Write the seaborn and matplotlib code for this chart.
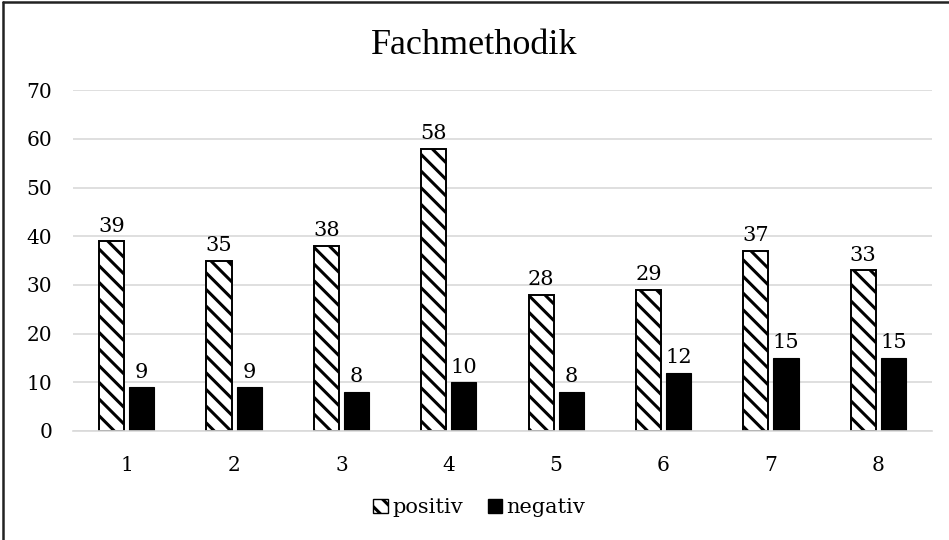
import matplotlib
matplotlib.use("Agg")
import matplotlib.pyplot as plt
from matplotlib.lines import Line2D
from matplotlib.patches import Patch
import pandas as pd
import seaborn as sns

categories = ["1", "2", "3", "4", "5", "6", "7", "8"]
positiv = [39, 35, 38, 58, 28, 29, 37, 33]
negativ = [9, 9, 8, 10, 8, 12, 15, 15]
series_names = ["positiv", "negativ"]
y_ticks = [0, 10, 20, 30, 40, 50, 60, 70]

df = pd.DataFrame({
    "Kategorie": categories * 2,
    "Wert": positiv + negativ,
    "Serie": [series_names[0]] * len(categories) + [series_names[1]] * len(categories),
})

sns.set_theme(style="white")
plt.rcParams["font.family"] = ["DejaVu Serif"]
plt.rcParams["text.color"] = "black"
plt.rcParams["hatch.linewidth"] = 2.2
plt.rcParams["hatch.color"] = "black"

fig = plt.figure(figsize=(9.49, 5.40), dpi=100)
ax = fig.add_axes([0.077, 0.202, 0.905, 0.631])

sns.barplot(data=df, x="Kategorie", y="Wert", hue="Serie", order=categories,
            hue_order=series_names, palette=["white", "black"],
            width=0.56, gap=0.16, ax=ax, legend=False, saturation=1)

pos_container, neg_container = ax.containers[0], ax.containers[1]
for bar in pos_container:
    bar.set_hatch("\\\\")
    bar.set_edgecolor("black")
    bar.set_linewidth(1.4)
for bar in neg_container:
    bar.set_edgecolor("black")
    bar.set_linewidth(0.8)

ax.bar_label(pos_container, labels=[str(v) for v in positiv], padding=4,
             fontsize=15, color="black")
ax.bar_label(neg_container, labels=[str(v) for v in negativ], padding=4,
             fontsize=15, color="black")

ax.set_ylim(0, 70)
ax.set_yticks(y_ticks)
ax.set_xlim(-0.5, len(categories) - 0.5)
ax.yaxis.grid(True, color="#d9d9d9", linewidth=1.2)
ax.set_axisbelow(True)
for side in ["top", "right", "left"]:
    ax.spines[side].set_visible(False)
ax.spines["bottom"].set_color("#d9d9d9")
ax.spines["bottom"].set_linewidth(1.2)
ax.tick_params(axis="both", length=0, labelsize=14.5, colors="black")
ax.tick_params(axis="y", pad=15)
ax.tick_params(axis="x", pad=18)
ax.set_xlabel("")
ax.set_ylabel("")

fig.text(0.5, 0.915, "Fachmethodik", ha="center", va="center", fontsize=26,
         family="Liberation Serif", color="black")

handles = [Patch(facecolor="white", edgecolor="black", hatch="\\\\", label=series_names[0]),
           Patch(facecolor="black", edgecolor="black", label=series_names[1])]
fig.legend(handles=handles, loc="center", bbox_to_anchor=(0.505, 0.06), ncol=2,
           frameon=False, fontsize=15, handlelength=0.7, handleheight=0.7,
           handletextpad=0.2, columnspacing=1.2, labelcolor="black")

fig.add_artist(Line2D([0.003, 0.003], [0, 0.997], transform=fig.transFigure,
                      color="#222222", linewidth=1.8))
fig.add_artist(Line2D([0.003, 1.0], [0.997, 0.997], transform=fig.transFigure,
                      color="#222222", linewidth=1.8))

fig.savefig("out.png", dpi=100)
